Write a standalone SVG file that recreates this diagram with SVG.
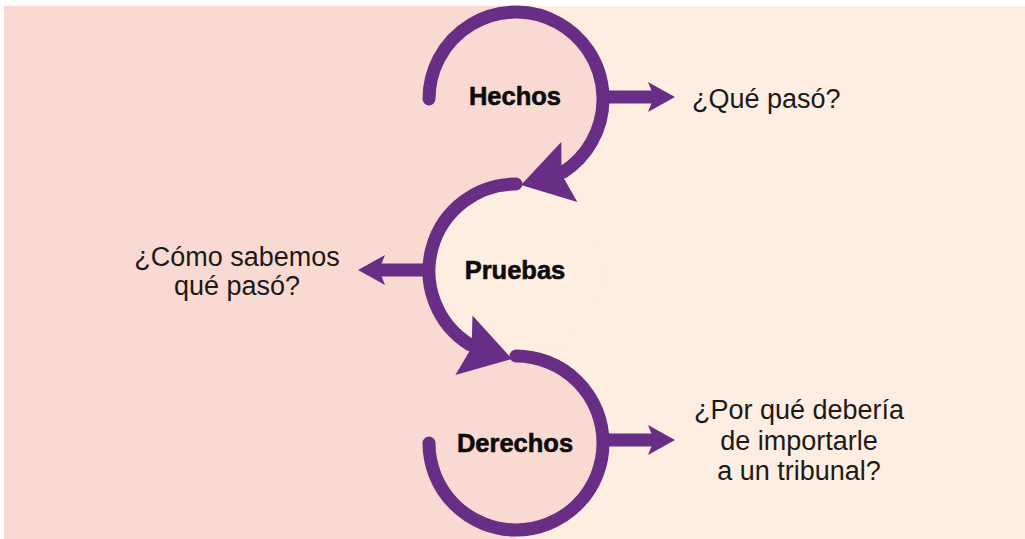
<svg xmlns="http://www.w3.org/2000/svg" width="1025" height="539" viewBox="0 0 1025 539">
  <style>
    .pink { fill: #F9DAD3; }
    .cream { fill: #FDEEE1; }
    .arc { fill: none; stroke: #682D84; stroke-width: 13; stroke-linecap: round; }
    .shaft { fill: none; stroke: #682D84; stroke-width: 13; }
    .head { fill: #682D84; }
    .label { font-family: "Liberation Sans", Arial, sans-serif; font-weight: bold; font-size: 25.5px; fill: #0d0d0d; text-anchor: middle; stroke: #0d0d0d; stroke-width: 0.6; }
    .q { font-family: "Liberation Sans", Arial, sans-serif; font-size: 27px; fill: #1a1a1a; }
  </style>
  <defs>
    <path id="bighead" d="M0,0 L-50,-31 L-42,0 L-50,31 Z"/>
    <path id="smallhead" d="M0,0 L-27,-15 L-21,0 L-27,15 Z"/>
  </defs>

  <rect x="0" y="0" width="1025" height="539" fill="#FFFFFF"/>
  <rect x="4" y="6" width="512" height="533" class="pink"/>
  <rect x="516" y="6" width="509" height="533" class="cream"/>

  <g id="node-hechos-bg"><circle cx="516" cy="99" r="87" class="pink"/></g>
  <g id="node-pruebas-bg"><circle cx="516" cy="271" r="87" class="cream"/></g>
  <g id="node-derechos-bg"><circle cx="516" cy="443" r="87" class="pink"/></g>

  <g id="connectors">
    <path class="arc" d="M429,99 A87,87 0 1 1 563.4,172"/>
    <use href="#bighead" class="head" transform="translate(521,185) rotate(165)"/>
    <path class="arc" d="M516,184 A87,87 0 0 0 469.9,344.8"/>
    <use href="#bighead" class="head" transform="translate(512,359) rotate(16)"/>
    <path class="arc" d="M516,356 A87,87 0 1 1 429,443"/>

    <path class="shaft" d="M600,97 L656,97"/>
    <use href="#smallhead" class="head" transform="translate(675,97)"/>
    <path class="shaft" d="M432,270 L377,270"/>
    <use href="#smallhead" class="head" transform="translate(358,270) rotate(180)"/>
    <path class="shaft" d="M600,440 L656,440"/>
    <use href="#smallhead" class="head" transform="translate(675,440)"/>
  </g>

  <g id="node-hechos"><text class="label" x="515" y="105">Hechos</text></g>
  <g id="node-pruebas"><text class="label" x="515" y="279">Pruebas</text></g>
  <g id="node-derechos"><text class="label" x="515" y="452">Derechos</text></g>

  <g id="note-hechos"><text class="q" x="692" y="108">¿Qué pasó?</text></g>
  <g id="note-pruebas">
    <text class="q" x="237" y="266" text-anchor="middle">¿Cómo sabemos</text>
    <text class="q" x="237" y="295" text-anchor="middle">qué pasó?</text>
  </g>
  <g id="note-derechos">
    <text class="q" x="799" y="419" text-anchor="middle">¿Por qué debería</text>
    <text class="q" x="799" y="450" text-anchor="middle">de importarle</text>
    <text class="q" x="799" y="480" text-anchor="middle">a un tribunal?</text>
  </g>
</svg>
